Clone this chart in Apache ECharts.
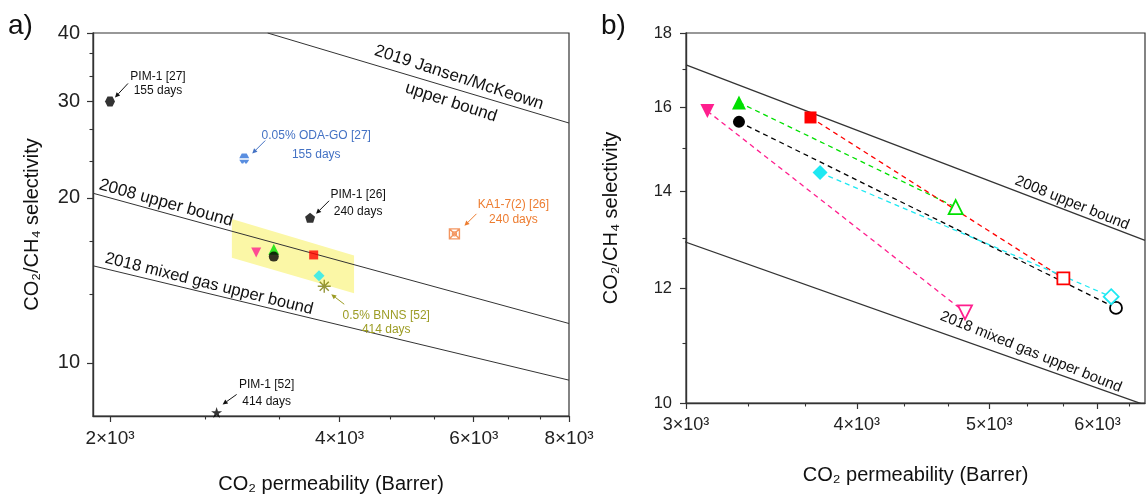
<!DOCTYPE html>
<html>
<head>
<meta charset="utf-8">
<script src="https://cdn.jsdelivr.net/npm/echarts@6/dist/echarts.min.js"></script>
<style>
  html, body { margin: 0; background: #fff; }
  #main { width: 1147px; height: 503px; }
</style>
</head>
<body>
<div id="main"></div>
<script>
// ---- panel a: literature points (aged membranes) ----
var litLabels = ['PIM-1 [27]', '0.05% ODA-GO [27]', 'PIM-1 [26]', 'KA1-7(2) [26]', '0.5% BNNS [52]', 'PIM-1 [52]']
var litDays = ['155 days', '155 days', '240 days', '240 days', '414 days', '414 days']
var litPerm = [2000, 3000, 3660, 5660, 3820, 2760]
var litSel = [30.0, 23.6, 18.4, 17.2, 13.8, 8.12]

// ---- this work: fresh (filled) -> aged (open) ----
var workPermFresh = [3110, 3280, 3280, 3700, 3760]
var workSelFresh = [15.9, 16.12, 15.63, 15.74, 14.42]
var workPermAged = [4800, 4725, 6190, 5665, 6140]
var workSelAged = [11.55, 13.65, 11.63, 12.19, 11.84]

// ---- yellow highlighted region in a) ----
var regionPerm = [2890, 2890, 4180, 4180]
var regionSel = [18.3, 15.55, 13.4, 15.7]

// ---- upper bounds ----
var jansenPerm = [3220, 8000]
var jansenSel = [40, 27.4]
var ub2008Perm = [1900, 8000]
var ub2008Sel = [20.4, 11.8]
var ub2008bPerm = [3000, 6500]
var ub2008bSel = [17.11, 12.95]
var mixed2018Perm = [1900, 8000]
var mixed2018Sel = [15.04, 9.3]

// ---- ticks ----
var aXTicks = [2000, 4000, 6000, 8000]
var aXMinor = [2667, 3333, 4667, 5333, 6667, 7333]
var aYTicks = [10, 20, 30, 40]
var aYMinor = [13.33, 16.67, 23.33, 26.67, 33.33, 36.67]
var bXTicks = [3000, 4000, 5000, 6000]
var bXMinor = [3333, 3667, 4333, 4667, 5333, 5667, 6333]
var bYTicks = [10, 12, 14, 16, 18]
var bYMinor = [11, 13, 15, 17]

// styles
var FONT = 'Arial, "Liberation Sans", sans-serif'
var workColors = ['#ff1f8e', '#00e000', '#000000', '#ff0000', '#1ee8f2']
var workSymbols = ['triangle', 'triangle', 'circle', 'rect', 'diamond']
var workRotate = [180, 0, 0, 0, 0]
var workSizeA = [10, 11, 10, 9, 11]
var workSizeB = [14, 14, 12, 12, 15]

var HEX = 'path://M2.5,0 L7.5,0 L10,4.33 L7.5,8.66 L2.5,8.66 L0,4.33 Z'
var HEX_SPLIT = 'path://M2.5,0 L7.5,0 L10,4 L0,4 Z M0,5.3 L10,5.3 L7.5,8.66 L6,8.66 L5,7 L4,8.66 L2.5,8.66 Z'
var PENTA = 'path://M5,0 L10,3.8 L8.1,9.5 L1.9,9.5 L0,3.8 Z'
var KA = 'path://M0,0 L10,0 L10,10 L0,10 Z M0,0 L10,10 M10,0 L0,10 M7,5 A2,2 0 1 1 3,5 A2,2 0 1 1 7,5'
var STAR = 'path://M5,0 L6.2,3.6 L10,3.6 L6.9,5.8 L8.1,9.5 L5,7.2 L1.9,9.5 L3.1,5.8 L0,3.6 L3.8,3.6 Z'
var ASTER = 'path://M5,0 L5,10 M0,5 L10,5 M1.5,1.5 L8.5,8.5 M8.5,1.5 L1.5,8.5'
var litSymbols = [HEX, HEX_SPLIT, PENTA, KA, ASTER, STAR]
var litSizes = [10, 10, 10, 10, 13, 11]
var litFill = ['#000', '#2f72d8', '#000', 'rgba(0,0,0,0)', 'rgba(0,0,0,0)', '#000']
var litStroke = ['#000', '#2f72d8', '#000', '#f07c3a', '#7a7a08', '#000']
var litText = ['#111', '#4472c4', '#111', '#ed7d31', '#9c9c24', '#111']
// label block centre / arrow (start, end) relative to point, in px
var annoLayout = [
  { dx: 48, dy: -18, lh: 14, a: [18, -18, 5, -4] },
  { dx: 72, dy: -13, lh: 19, a: [21, -18, 8, -5] },
  { dx: 48, dy: -15, lh: 17, a: [19, -17, 6, -4] },
  { dx: 59, dy: -22, lh: 15, a: [22, -20, 10, -8] },
  { dx: 62, dy: 36, lh: 14, a: [20, 18, 7, 8] },
  { dx: 50, dy: -19, lh: 17, a: [20, -18, 6, -8] }
]

function pairs(xs, ys) {
  return xs.map(function (x, i) { return [x, ys[i]] })
}
function sciLabel(v) {
  return Math.round(v / 1000) + '×10³'
}

var chart = echarts.init(document.getElementById('main'))

function gridBox(left, top, width, height, border) {
  return {
    left: left, top: top, width: width, height: height,
    show: border, borderColor: '#333', borderWidth: 1.2,
    backgroundColor: 'transparent', containLabel: false, outerBoundsMode: 'none'
  }
}
function majorAxis(gridIndex, min, max, ticks, fontSize, margin, name, nameGap, isX) {
  return {
    type: 'log', logBase: 10, gridIndex: gridIndex, min: min, max: max,
    name: name, nameLocation: 'middle', nameGap: nameGap, nameRotate: isX ? 0 : 90,
    nameTextStyle: { fontFamily: FONT, fontSize: 20, color: '#111' },
    axisLine: { show: true, lineStyle: { color: '#333', width: 1.4 } },
    axisTick: { show: true, customValues: ticks, length: 6, lineStyle: { color: '#333', width: 1.2 } },
    axisLabel: {
      show: true, customValues: ticks, fontFamily: FONT, fontSize: fontSize, color: '#222', margin: margin,
      formatter: isX ? sciLabel : function (v) { return String(Math.round(v)) }
    },
    splitLine: { show: false }
  }
}
function minorAxis(gridIndex, min, max, ticks) {
  return {
    type: 'log', logBase: 10, gridIndex: gridIndex, min: min, max: max,
    axisLine: { show: false },
    axisTick: { show: true, customValues: ticks, length: 3.5, lineStyle: { color: '#333', width: 1.1 } },
    axisLabel: { show: false },
    splitLine: { show: false }
  }
}

var series = []

// a) highlighted region
series.push({
  type: 'custom', xAxisIndex: 0, yAxisIndex: 0, z: 1, silent: true,
  data: pairs(regionPerm, regionSel),
  renderItem: function (params, api) {
    if (params.dataIndex !== 0) return null
    var pts = regionPerm.map(function (p, i) { return api.coord([p, regionSel[i]]) })
    return { type: 'polygon', shape: { points: pts }, style: { fill: '#fbf7a6' } }
  }
})

// bound lines
function boundLine(xIdx, px, py, width) {
  return {
    type: 'line', xAxisIndex: xIdx, yAxisIndex: xIdx, z: 2, silent: true,
    data: pairs(px, py), showSymbol: false, symbol: 'none', clip: true,
    lineStyle: { color: '#333', width: width }
  }
}
series.push(boundLine(0, jansenPerm, jansenSel, 1))
series.push(boundLine(0, ub2008Perm, ub2008Sel, 1))
series.push(boundLine(0, mixed2018Perm, mixed2018Sel, 1))
series.push(boundLine(1, ub2008bPerm, ub2008bSel, 1.3))
series.push(boundLine(1, mixed2018Perm, mixed2018Sel, 1.3))

// a) literature points
series.push({
  type: 'scatter', xAxisIndex: 0, yAxisIndex: 0, z: 4,
  data: litPerm.map(function (p, i) {
    return {
      value: [p, litSel[i]], symbol: litSymbols[i], symbolSize: litSizes[i],
      itemStyle: { color: litFill[i], borderColor: litStroke[i], borderWidth: (i === 3 || i === 4) ? 1.4 : 0 }
    }
  })
})

// a) this work (fresh)
series.push({
  type: 'scatter', xAxisIndex: 0, yAxisIndex: 0, z: 4,
  data: workPermFresh.map(function (p, i) {
    return {
      value: [p, workSelFresh[i]], symbol: workSymbols[i], symbolSize: workSizeA[i],
      symbolRotate: workRotate[i], itemStyle: { color: workColors[i] }
    }
  })
})

// b) fresh -> aged, dashed
workPermFresh.forEach(function (p, i) {
  series.push({
    type: 'line', xAxisIndex: 1, yAxisIndex: 1, z: 3,
    symbol: workSymbols[i], symbolSize: workSizeB[i], symbolRotate: workRotate[i], showSymbol: true,
    lineStyle: { color: workColors[i], width: 1.3, type: [5, 4] },
    itemStyle: { color: workColors[i] },
    data: [
      { value: [p, workSelFresh[i]] },
      { value: [workPermAged[i], workSelAged[i]], itemStyle: { color: '#fff', borderColor: workColors[i], borderWidth: 1.8 } }
    ]
  })
})

chart.setOption({
  animation: false,
  backgroundColor: '#fff',
  grid: [
    gridBox(93, 33, 476, 383, true),
    gridBox(686, 33, 459, 370, true),
    gridBox(93, 33, 476, 383, false),
    gridBox(686, 33, 459, 370, false)
  ],
  xAxis: [
    majorAxis(0, 1900, 8000, aXTicks, 19, 13, 'CO₂ permeability (Barrer)', 58, true),
    majorAxis(1, 3000, 6500, bXTicks, 18, 13, 'CO₂ permeability (Barrer)', 62, true),
    minorAxis(2, 1900, 8000, aXMinor),
    minorAxis(3, 3000, 6500, bXMinor)
  ],
  yAxis: [
    majorAxis(0, 8, 40, aYTicks, 20, 13, 'CO₂/CH₄ selectivity', 51, false),
    majorAxis(1, 10, 18, bYTicks, 16.5, 14, 'CO₂/CH₄ selectivity', 65, false),
    minorAxis(2, 8, 40, aYMinor),
    minorAxis(3, 10, 18, bYMinor)
  ],
  series: series
})

// annotations and bound labels
var graphics = []
function txt(x, y, text, size, color, rotDeg, lh) {
  return {
    type: 'text', x: x, y: y, rotation: (rotDeg || 0) * Math.PI / 180, z: 100,
    style: { text: text, fill: color, fontSize: size, fontFamily: FONT, align: 'center', verticalAlign: 'middle', lineHeight: lh || size * 1.2 }
  }
}
function arrow(x1, y1, x2, y2, color) {
  var ang = Math.atan2(y2 - y1, x2 - x1)
  var L = 5, W = 2.4
  var bx = x2 - L * Math.cos(ang), by = y2 - L * Math.sin(ang)
  return [
    { type: 'line', z: 100, shape: { x1: x1, y1: y1, x2: bx, y2: by }, style: { stroke: color, lineWidth: 1 } },
    { type: 'polygon', z: 100, shape: { points: [[x2, y2], [bx - W * Math.sin(ang), by + W * Math.cos(ang)], [bx + W * Math.sin(ang), by - W * Math.cos(ang)]] }, style: { fill: color } }
  ]
}
litPerm.forEach(function (p, i) {
  var pt = chart.convertToPixel({ xAxisIndex: 0, yAxisIndex: 0 }, [p, litSel[i]])
  var lay = annoLayout[i]
  graphics.push(txt(pt[0] + lay.dx, pt[1] + lay.dy, litLabels[i] + '\n' + litDays[i], 12, litText[i], 0, lay.lh))
  graphics = graphics.concat(arrow(pt[0] + lay.a[0], pt[1] + lay.a[1], pt[0] + lay.a[2], pt[1] + lay.a[3], litText[i]))
})

graphics.push(txt(455, 90, '2019 Jansen/McKeown\nupper bound', 17, '#111', -18, 26))
graphics.push(txt(166, 203, '2008 upper bound', 17, '#111', -15.5))
graphics.push(txt(209, 284, '2018 mixed gas upper bound', 16.5, '#111', -14))
graphics.push(txt(1072, 203, '2008 upper bound', 15, '#111', -22))
graphics.push(txt(1031, 352, '2018 mixed gas upper bound', 15, '#111', -22))
graphics.push({ type: 'text', x: 8, y: 12, z: 100, style: { text: 'a)', fontSize: 28, fontFamily: FONT, fill: '#111' } })
graphics.push({ type: 'text', x: 601, y: 12, z: 100, style: { text: 'b)', fontSize: 28, fontFamily: FONT, fill: '#111' } })

chart.setOption({ graphic: graphics })
</script>
</body>
</html>
